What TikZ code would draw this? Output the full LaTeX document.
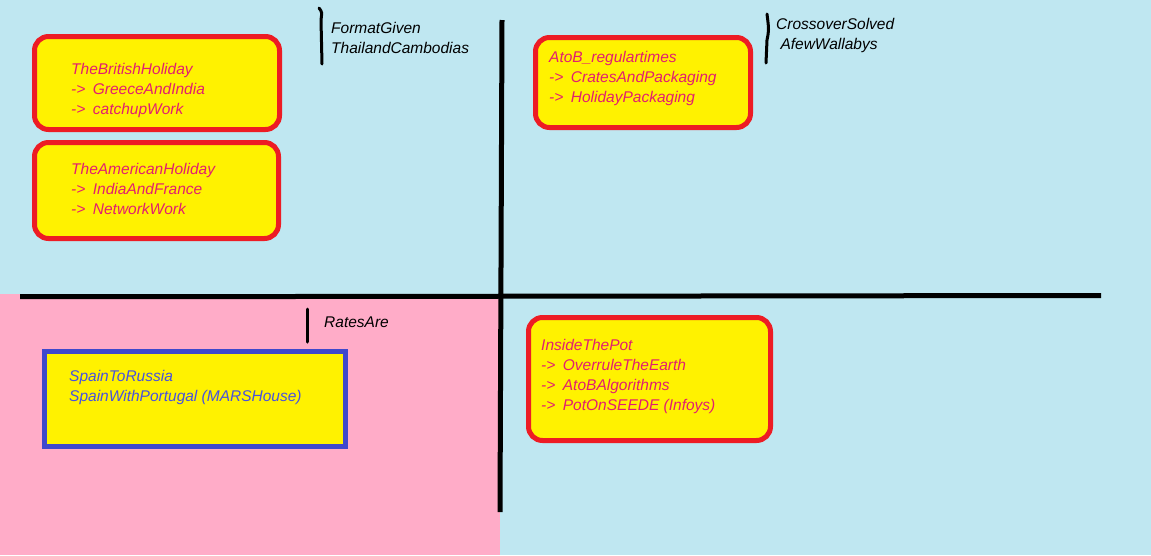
\documentclass[tikz,border=0pt]{standalone}
\usepackage{fontspec}
\setmainfont{Liberation Sans}
\definecolor{skyback}{RGB}{191,231,241}
\definecolor{pinkback}{RGB}{255,172,200}
\definecolor{boxfill}{RGB}{255,242,0}
\definecolor{boxred}{RGB}{237,28,36}
\definecolor{boxblue}{RGB}{63,72,204}
\definecolor{redtext}{RGB}{226,30,112}
\definecolor{bluetext}{RGB}{72,82,222}
% arrow marker that opens each sub-item
\newcommand\subarrow{->\hspace{7.5pt}}
\tikzset{
  card/.style={draw=boxred, fill=boxfill, line width=5pt, rounded corners=14pt},
  bluecard/.style={draw=boxblue, fill=boxfill, line width=5pt},
  lbl/.style={inner sep=0pt, anchor=north west, align=left, font=\fontsize{15.5}{20}\selectfont\itshape},
  divider/.style={line width=5pt, black},
  tick/.style={line width=3pt, black, line cap=round}
}
\begin{document}
\begin{tikzpicture}[x=1pt,y=-1pt]
  % canvas and quadrant backgrounds
  \fill[skyback] (0,0) rectangle (1151,555);
  \useasboundingbox (0,0) rectangle (1151,555);
  \fill[pinkback] (0,294) rectangle (500,555);

  % quadrant dividers
  \draw[divider] (20,296.5) -- (290,296.5) -- (1101,295.5);
  \draw[divider] (502,20) -- (500,512);

  % boxes
  \draw[card] (34.5,36.5) rectangle (279.5,129.5);
  \draw[card] (34.5,142.5) rectangle (278.5,238.5);
  \draw[card] (535.5,37.5) rectangle (750.5,127.5);
  \draw[card] (528.5,317.5) rectangle (770.5,440.5);
  \draw[bluecard] (44.5,351.5) rectangle (345.5,446.5);

  % box texts
  \node[lbl, text=redtext] (british) at (71,63) {TheBritishHoliday\\\subarrow GreeceAndIndia\\\subarrow catchupWork};
  \node[lbl, text=redtext] (american) at (71,163) {TheAmericanHoliday\\\subarrow IndiaAndFrance\\\subarrow NetworkWork};
  \node[lbl, text=redtext] (atob) at (549,51) {AtoB\_regulartimes\\\subarrow CratesAndPackaging\\\subarrow HolidayPackaging};
  \node[lbl, text=redtext] (pot) at (541,339) {InsideThePot\\\subarrow OverruleTheEarth\\\subarrow AtoBAlgorithms\\\subarrow PotOnSEEDE (Infoys)};
  \node[lbl, text=bluetext] (spain) at (69,370) {SpainToRussia\\SpainWithPortugal (MARSHouse)};

  % side notes with their marks
  \draw[tick] (319,8) .. controls (322,12) .. (321,20) -- (322,64);
  \node[lbl] (format) at (331,22) {FormatGiven\\ThailandCambodias};
  \draw[tick] (767,14) .. controls (769,30) .. (767,40) -- (766,63);
  \node[lbl] (crossover) at (776,18) {CrossoverSolved\\\ AfewWallabys};
  \draw[tick] (307,309) -- (307,342);
  \node[lbl] (rates) at (324,317) {RatesAre};
\end{tikzpicture}
\end{document}
